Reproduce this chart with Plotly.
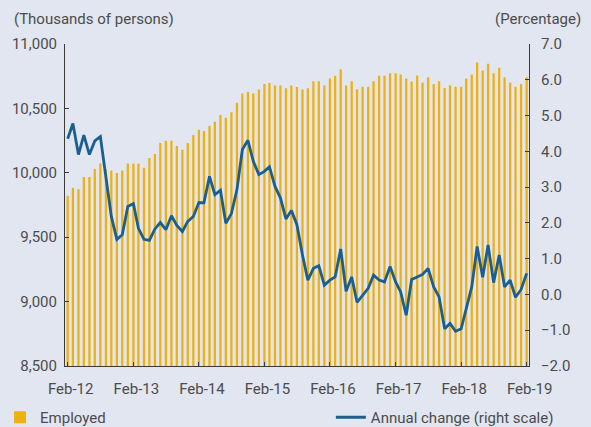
import pandas as pd
import plotly.graph_objects as go

months = pd.date_range("2012-02-01", periods=85, freq="MS")

employed = [
    9821, 9884, 9873, 9967, 9967, 10029, 10073, 10026, 10018, 9998, 10018, 10073,
    10073, 10073, 10039, 10115, 10146, 10231, 10249, 10249, 10209, 10179, 10231, 10294,
    10335, 10325, 10366, 10397, 10449, 10428, 10470, 10543, 10615, 10628, 10615, 10646,
    10690, 10698, 10677, 10677, 10656, 10677, 10667, 10646, 10656, 10711, 10711, 10677,
    10732, 10753, 10804, 10677, 10711, 10648, 10669, 10669, 10711, 10753, 10753, 10773,
    10773, 10763, 10732, 10708, 10755, 10700, 10742, 10690, 10711, 10659, 10680, 10669,
    10669, 10732, 10763, 10856, 10794, 10846, 10773, 10815, 10742, 10700, 10669, 10690,
    10742,
]

annual_change = [
    4.35, 4.78, 3.91, 4.45, 3.91, 4.29, 4.41, 3.20, 2.18, 1.54, 1.67, 2.46,
    2.54, 1.85, 1.54, 1.51, 1.83, 2.01, 1.81, 2.20, 1.93, 1.76, 2.04, 2.18,
    2.57, 2.56, 3.30, 2.79, 2.91, 1.99, 2.26, 2.93, 4.05, 4.31, 3.72, 3.35,
    3.44, 3.57, 3.02, 2.70, 2.11, 2.35, 1.95, 1.10, 0.40, 0.73, 0.80, 0.26,
    0.40, 0.49, 1.27, 0.09, 0.49, -0.22, -0.02, 0.17, 0.54, 0.40, 0.35, 0.78,
    0.35, 0.07, -0.58, 0.42, 0.49, 0.56, 0.73, 0.21, -0.07, -0.96, -0.81, -1.03,
    -0.96, -0.39, 0.21, 1.34, 0.48, 1.38, 0.33, 1.10, 0.21, 0.40, -0.08, 0.14,
    0.59,
]

left_title = "(Thousands of persons)"
right_title = "(Percentage)"
bar_name = "Employed"
line_name = "Annual change (right scale)"

BG = "#e1e6f0"
TXT = "#4c4c4c"
FONT = "Roboto"
AX = "#3a3a3a"

fig = go.Figure()
fig.add_trace(go.Bar(
    x=months, y=employed, name=bar_name,
    marker=dict(color="#efb10f", line=dict(width=0)),
    legend="legend", showlegend=True,
))
fig.add_trace(go.Scatter(
    x=months, y=annual_change, name=line_name, yaxis="y2",
    mode="lines", line=dict(color="#1c5f8e", width=2.8),
    legend="legend2", showlegend=True,
))

fig.update_layout(
    width=591, height=427,
    margin=dict(l=65, r=62, t=44, b=61, autoexpand=False),
    paper_bgcolor=BG, plot_bgcolor=BG,
    font=dict(family=FONT, size=15, color=TXT),
    bargap=0.55,
    showlegend=True,
    xaxis=dict(
        type="date", range=["2012-01-17", "2019-02-14"],
        tick0="2012-02-01", dtick="M12", tickformat="%b-%y",
        ticks="inside", ticklen=4, tickcolor=AX,
        showline=True, linecolor=AX, linewidth=1,
        showgrid=False, zeroline=False, automargin=False,
        tickfont=dict(size=15, color=TXT),
        ticklabelstandoff=9, ticklabelshift=3,
    ),
    yaxis=dict(
        range=[8500, 11000], dtick=500, tickformat=",d",
        ticks="inside", ticklen=4, tickcolor=AX,
        showline=True, linecolor=AX, linewidth=1,
        showgrid=False, zeroline=False, automargin=False,
        tickfont=dict(size=15, color=TXT),
        ticklabelstandoff=4,
    ),
    yaxis2=dict(
        range=[-2, 7], dtick=1, tickformat=".1f",
        overlaying="y", side="right",
        ticks="inside", ticklen=4, tickcolor=AX,
        showline=True, linecolor=AX, linewidth=1,
        showgrid=False, zeroline=False, automargin=False,
        tickfont=dict(size=15, color=TXT),
        ticklabelstandoff=8,
    ),
    legend=dict(
        xref="paper", yref="paper", x=-0.14, y=-0.16,
        xanchor="left", yanchor="middle", orientation="h",
        bgcolor="rgba(0,0,0,0)", font=dict(size=15, color=TXT),
    ),
    legend2=dict(
        xref="paper", yref="paper", x=0.573, y=-0.16,
        xanchor="left", yanchor="middle", orientation="h",
        bgcolor="rgba(0,0,0,0)", font=dict(size=15, color=TXT),
    ),
    annotations=[
        dict(text=left_title, xref="paper", yref="paper", x=-0.114, y=1.0,
             xanchor="left", yanchor="bottom", yshift=14, showarrow=False,
             font=dict(size=15, color=TXT)),
        dict(text=right_title, xref="paper", yref="paper", x=1.117, y=1.0,
             xanchor="right", yanchor="bottom", yshift=14, showarrow=False,
             font=dict(size=15, color=TXT)),
    ],
)

fig.write_html(
    "out.html",
    config={"displayModeBar": False},
    post_script="document.body.style.margin='0';document.body.style.padding='0';"
                "document.body.style.overflow='hidden';",
)
